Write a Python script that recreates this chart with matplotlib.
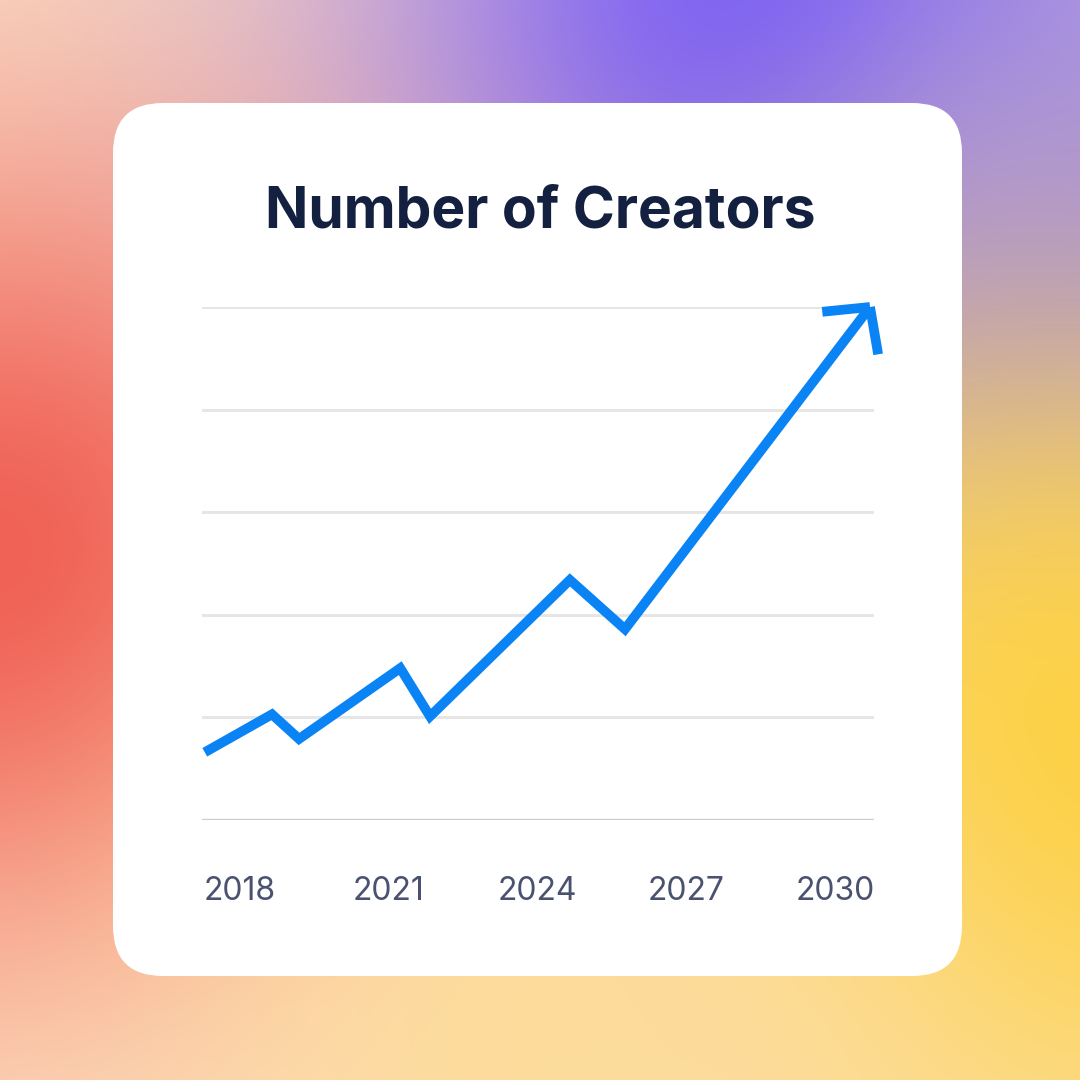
import numpy as np
import matplotlib
matplotlib.use("Agg")
import matplotlib.pyplot as plt
from matplotlib.patches import FancyBboxPatch

title = "Number of Creators"
years = [2017.29, 2018.645, 2019.19, 2021.23, 2021.83, 2024.65, 2025.76, 2030.70]
values = [0.66, 1.03, 0.79, 1.48, 1.01, 2.34, 1.86, 5.0]
tick_years = [2018, 2021, 2024, 2027, 2030]
tick_labels = ["2018", "2021", "2024", "2027", "2030"]

fig = plt.figure(figsize=(10.8, 10.8), dpi=100)

bg = fig.add_axes([0, 0, 1, 1])
H = W = 540
yy, xx = np.mgrid[0:H, 0:W] / H * 1080
img = np.zeros((H, W, 3)) + np.array([253, 228, 200]) / 255
blobs = [((780, 20), (115, 88, 252), 300),
         ((1080, 220), (160, 140, 235), 220),
         ((0, 560), (240, 95, 85), 290),
         ((1060, 760), (253, 208, 60), 320),
         ((600, 1080), (253, 220, 155), 280)]
for (cx, cy), col, s in blobs:
    w = np.exp(-((xx - cx) ** 2 + (yy - cy) ** 2) / (2 * s ** 2))[..., None]
    img = img * (1 - w) + (np.array(col) / 255) * w
bg.imshow(np.clip(img, 0, 1), extent=[0, 1080, 1080, 0], aspect="auto")
bg.set_xlim(0, 1080); bg.set_ylim(1080, 0); bg.axis("off")
bg.add_patch(FancyBboxPatch((163, 153), 749, 773, boxstyle="round,pad=50",
                            fc="white", ec="none"))
bg.text(540, 212, title, ha="center", va="center", fontsize=41,
        fontweight="bold", color="#13203f", family="Inter")

ax = fig.add_axes([202 / 1080, 1 - 820 / 1080, 672 / 1080, 513 / 1080])
ax.set_facecolor("none")
ax.set_xlim(2017.234, 2030.78)
ax.set_ylim(0, 5)
for v in range(1, 6):
    ax.axhline(v, color="#e6e6e6", lw=2.2, zorder=1)
ax.axhline(0, color="#cccccc", lw=2.4, zorder=1)
for s in ax.spines.values():
    s.set_visible(False)
ax.set_yticks([])
ax.set_xticks(tick_years)
ax.set_xticklabels(tick_labels, fontsize=23, color="#4a5270", family="Inter")
ax.tick_params(axis="x", length=0, pad=40)
ax.plot(years, values, color="#0a84f5", lw=7, solid_joinstyle="miter",
        solid_capstyle="butt", zorder=3, clip_on=False)

fig.canvas.draw()
tip = ax.transData.transform((years[-1], values[-1]))
prev = ax.transData.transform((years[-2], values[-2]))
d = (prev - tip) / np.linalg.norm(prev - tip)
L = 48
for a in (np.radians(47), -np.radians(47)):
    r = np.array([[np.cos(a), -np.sin(a)], [np.sin(a), np.cos(a)]])
    end = tip + L * (r @ d)
    ax.plot([end[0], tip[0]], [end[1], tip[1]], transform=None, color="#0a84f5",
            lw=7, solid_capstyle="butt", zorder=3, clip_on=False)

fig.savefig("out.png", dpi=100)
